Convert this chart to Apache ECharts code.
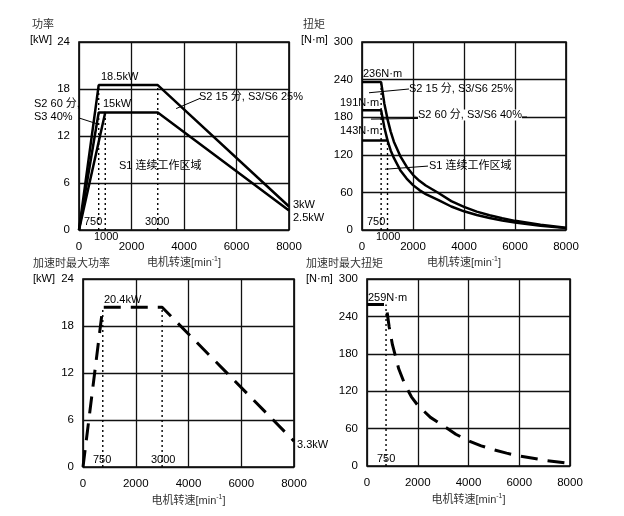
<!DOCTYPE html>
<html><head><meta charset="utf-8">
<script src="https://cdn.jsdelivr.net/npm/echarts@6/dist/echarts.min.js"></script>
<style>html,body{margin:0;padding:0;background:#fff}#c{width:624px;height:516px}</style>
</head><body><div id="c"></div>
<script>
// ---- data (speed min^-1, power kW / torque N·m) ----
const powS2_15 = [[0,0],[750,18.5],[3000,18.5],[8000,3]];
const powS2_60 = [[0,0],[750,15],[1000,15]];
const powS1    = [[0,0],[1000,15],[3000,15],[8000,2.5]];
const powDots  = [[[750,0],[750,18.5]],[[1000,0],[1000,15]],[[3000,0],[3000,18.5]]];

const trqS2_15 = [[0,236],[750,236],[875,202],[1000,177],[1125,157],[1250,141],[1500,118],[1750,101],[2000,88],[2250,78.5],[2500,71],[3000,59],[3500,46],[4000,37],[4500,29.4],[5000,23.5],[5500,18.7],[6000,14.6],[7000,8.3],[8000,3.6]];
const trqS2_60 = [[0,191],[750,191],[875,164],[1000,143]];
const trqS1    = [[0,143],[1000,143],[1125,127],[1250,115],[1500,95.5],[1750,82],[2000,71.6],[2250,63.7],[2500,57.3],[3000,47.7],[3500,37.5],[4000,29.8],[4500,23.9],[5000,19.1],[5500,15.2],[6000,11.9],[7000,6.8],[8000,3.0]];
const trqDots  = [[[750,0],[750,236]],[[1000,0],[1000,143]]];

const accPow   = [[0,0],[750,20.4],[3000,20.4],[8000,3.3]];
const accPowDots = [[[750,0],[750,20.4]],[[3000,0],[3000,20.4]]];
const accTrq   = [[0,259],[750,259],[875,223],[1000,195],[1250,156],[1500,130],[1750,111],[2000,97.4],[2500,78],[3000,65],[3500,51],[4000,40.5],[4500,32.4],[5000,25.9],[5500,20.6],[6000,16.1],[7000,9.2],[8000,3.9]];
const accTrqDots = [[[750,0],[750,259]]];

const xMax = 8000, xStep = 2000;
const powMax = 24, powStep = 6;
const trqMax = 300, trqStep = 60;

const xName = '{a|电机转速[min}{s|-1}{a|]}';
const LAT = 'Liberation Sans, Arial, Noto Sans CJK SC';
const CJK = 'Liberation Sans, Noto Sans CJK SC';

const chart = echarts.init(document.getElementById('c'), null, {renderer:'canvas'});

const grids = [
  {left:79, top:42, width:210, height:188},
  {left:362, top:42, width:204, height:188},
  {left:83, top:279, width:211, height:188},
  {left:367, top:279, width:203, height:187}
];
const yMaxes = [[powMax,powStep],[trqMax,trqStep],[powMax,powStep],[trqMax,trqStep]];

function xAxis(i){
  return {type:'value', gridIndex:i, min:0, max:xMax, interval:xStep,
    axisLine:{show:false}, axisTick:{show:false},
    splitLine:{show:true, lineStyle:{color:'#111', width:1.3}},
    axisLabel:{color:'#000', fontSize:11.5, fontFamily:LAT, margin:11, formatter: v => String(v)},
    name:xName, nameLocation:'middle', nameGap: i<2?26:27,
    nameTextStyle:{rich:{a:{fontSize:11, fontFamily:CJK, color:'#333'}, s:{fontSize:7, fontFamily:LAT, color:'#333', verticalAlign:'top', padding:[0,0,7,0]}}}
  };
}
function yAxis(i){
  return {type:'value', gridIndex:i, min:0, max:yMaxes[i][0], interval:yMaxes[i][1],
    axisLine:{show:false}, axisTick:{show:false},
    splitLine:{show:true, lineStyle:{color:'#111', width:1.3}},
    axisLabel:{color:'#000', fontSize:11.5, fontFamily:LAT, margin:9, formatter: v => String(v)}
  };
}
function solid(i, data){
  return {type:'line', xAxisIndex:i, yAxisIndex:i, data, symbol:'none', silent:true,
    lineStyle:{color:'#000', width:2.5}, z:5};
}
function dashed(i, data){
  return {type:'line', xAxisIndex:i, yAxisIndex:i, data, symbol:'none', silent:true,
    lineStyle:{color:'#000', width:3, type:[17,10]}, z:5};
}
function dots(i, segs){
  return segs.map(s => ({type:'line', xAxisIndex:i, yAxisIndex:i, data:s, symbol:'none', silent:true,
    lineStyle:{color:'#000', width:1.4, type:[2,3]}, z:4}));
}
function arrows(i, lines){
  return {type:'line', xAxisIndex:i, yAxisIndex:i, data:[], silent:true,
    markLine:{silent:true, symbol:['none','arrow'], symbolSize:[0,7], animation:false,
      label:{show:false}, lineStyle:{color:'#000', width:1, type:'solid'},
      data: lines.map(l => [{coord:l[0]},{coord:l[1]}])}};
}

const series = [
  solid(0, powS2_15), solid(0, powS2_60), solid(0, powS1), ...dots(0, powDots),
  arrows(0, [[[0,14.3],[740,13.5]], [[4610,16.8],[3700,15.5]]]),
  solid(1, trqS2_15), solid(1, trqS2_60), solid(1, trqS1), ...dots(1, trqDots),
  arrows(1, [[[1843,225],[275,219]], [[6470,180.3],[353,177]], [[2588,102],[902,97]]]),
  dashed(2, accPow), ...dots(2, accPowDots),
  dashed(3, accTrq), ...dots(3, accTrqDots)
];

function t(x, y, text, font, extra){
  return Object.assign({type:'text', x, y, z:100, silent:true,
    style:{text, fill:'#000', font: font || ('11px '+LAT), verticalAlign:'middle', align:'left'}}, extra||{});
}
const cj = '11px ' + CJK;
function tc(x, y, text){ const o = t(x, y, text, cj); o.style.fill = '#333'; return o; }
const graphic = [
  tc(32,25,'功率'), t(30,40,'[kW]'),
  tc(303,25,'扭矩'), t(301,40,'[N·m]'),
  tc(33,264,'加速时最大功率'), t(33,279,'[kW]'),
  tc(306,264,'加速时最大扭矩'), t(306,279,'[N·m]'),
  // top-left
  t(101,77,'18.5kW'), t(103,104,'15kW'),
  t(34,104,'S2 60 分,',cj), t(34,117,'S3 40%'),
  t(199,97,'S2 15 分, S3/S6 25%',cj),
  t(119,166,'S1 连续工作区域',cj),
  t(84,222,'750'), t(94,237,'1000'), t(145,222,'3000'),
  t(293,205,'3kW'), t(293,218,'2.5kW'),
  // top-right
  t(363,74,'236N·m'), t(340,103,'191N·m'), t(340,131,'143N·m'),
  t(409,89,'S2 15 分, S3/S6 25%',cj),
  {type:'text', x:418, y:115, z:100, silent:true, style:{text:'S2 60 分, S3/S6 40%', fill:'#000', font:cj, verticalAlign:'middle', backgroundColor:'#fff'}},
  t(429,166,'S1 连续工作区域',cj),
  t(367,222,'750'), t(376,237,'1000'),
  // bottom-left
  t(104,300,'20.4kW'), t(93,460,'750'), t(151,460,'3000'), t(297,445,'3.3kW'),
  // bottom-right
  t(368,298,'259N·m'), t(377,459,'750')
];

chart.setOption({
  animation:false,
  grid: grids.map(g => Object.assign({show:true, borderColor:'#000', borderWidth:1.6, backgroundColor:'transparent'}, g)),
  xAxis:[0,1,2,3].map(xAxis),
  yAxis:[0,1,2,3].map(yAxis),
  series,
  graphic
});
</script></body></html>
